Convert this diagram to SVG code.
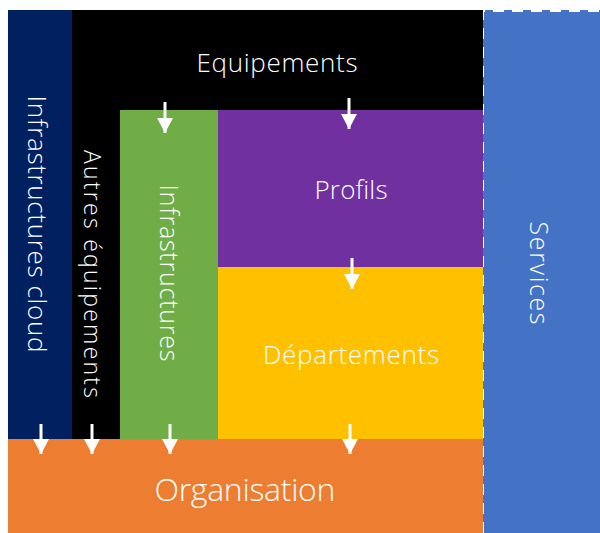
<svg xmlns="http://www.w3.org/2000/svg" width="600" height="533" viewBox="0 0 600 533">
<defs>
<style>
.t{font-family:"Open Sans","Liberation Sans",sans-serif;font-weight:300;fill:#fff;text-anchor:middle;dominant-baseline:central}
.a{stroke:#fff;stroke-width:3}
</style>
<marker id="ah" markerWidth="16" markerHeight="16" viewBox="0 0 16 16" refX="15" refY="8" orient="auto" markerUnits="userSpaceOnUse"><path d="M0,0 L15,8 L0,16 Z" fill="#fff"/></marker>
</defs>
<rect width="600" height="533" fill="#fff"/>
<g id="services"><rect x="483" y="10" width="117" height="523" fill="#4472C4"/><path d="M483,533 V11 H600" fill="none" stroke="#fff" stroke-width="2" stroke-dasharray="11 8"/><text class="t" font-size="25" transform="translate(540,273) rotate(90)" textLength="103">Services</text></g>
<g id="equipements"><rect x="72" y="10" width="411" height="101" fill="#000"/><text class="t" font-size="26" x="277" y="62" textLength="161">Equipements</text></g>
<g id="autres"><rect x="72" y="110" width="48" height="329" fill="#000"/><text class="t" font-size="23" transform="translate(93,274) rotate(90)" textLength="248">Autres équipements</text></g>
<g id="cloud"><rect x="8" y="10" width="64" height="429" fill="#002060"/><text class="t" font-size="26" transform="translate(38,224) rotate(90)" textLength="257">Infrastructures cloud</text></g>
<g id="infra"><rect x="120" y="110" width="98" height="329" fill="#70AD47"/><text class="t" font-size="25" transform="translate(170,273) rotate(90)" textLength="177">Infrastructures</text></g>
<g id="profils"><rect x="218" y="110" width="265" height="157" fill="#7030A0"/><text class="t" font-size="26" x="351" y="189" textLength="73">Profils</text></g>
<g id="departements"><rect x="218" y="267" width="265" height="172" fill="#FFC000"/><text class="t" font-size="26" x="351" y="354" textLength="176">Départements</text></g>
<g id="organisation"><rect x="8" y="439" width="475" height="94" fill="#ED7D31"/><text class="t" font-size="32" x="245" y="488" textLength="181">Organisation</text></g>
<g id="connectors">
<line class="a" x1="349" y1="98" x2="349" y2="129" marker-end="url(#ah)"/>
<line class="a" x1="165" y1="102" x2="165" y2="133" marker-end="url(#ah)"/>
<line class="a" x1="352" y1="258" x2="352" y2="289" marker-end="url(#ah)"/>
<line class="a" x1="41" y1="424" x2="41" y2="454" marker-end="url(#ah)"/>
<line class="a" x1="92" y1="424" x2="92" y2="454" marker-end="url(#ah)"/>
<line class="a" x1="170" y1="424" x2="170" y2="454" marker-end="url(#ah)"/>
<line class="a" x1="350" y1="424" x2="350" y2="454" marker-end="url(#ah)"/>
</g>
</svg>
